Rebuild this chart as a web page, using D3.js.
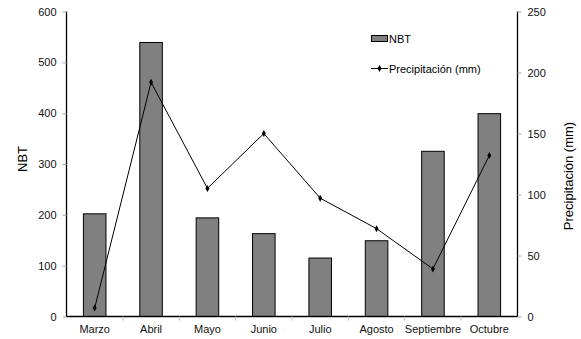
<!DOCTYPE html>
<html><head><meta charset="utf-8">
<script src="https://cdn.jsdelivr.net/npm/d3@7"></script>
<style>body{margin:0;background:#fff}svg{display:block}text{font-family:"Liberation Sans",Arial,sans-serif}</style>
</head><body>
<svg id="c" width="581" height="339"></svg>
<script>
const months = ["Marzo","Abril","Mayo","Junio","Julio","Agosto","Septiembre","Octubre"];
const nbt = [202, 539, 194, 163, 115, 149, 325, 399];
const precip = [7, 192, 105, 150, 97, 72, 39, 132];
const leftTicks = [0,100,200,300,400,500,600];
const rightTicks = [0,50,100,150,200,250];

const svg = d3.select("#c");
const L = 66.5, R = 517.5, T = 11.5, B = 316.5;
const x = d3.scaleBand().domain(months).range([L, R]).paddingInner(0.6).paddingOuter(0.3);
const xb = d3.scaleBand().domain(months).range([L, R]);
const yL = d3.scaleLinear().domain([0,600]).range([B, T]);
const yR = d3.scaleLinear().domain([0,250]).range([B, T]);

// bars
svg.append("g").selectAll("rect").data(nbt).join("rect")
  .attr("x", (d,i)=>x(months[i])).attr("width", x.bandwidth())
  .attr("y", d=>yL(d)).attr("height", d=>B - yL(d))
  .attr("fill","#808080").attr("stroke","#000").attr("stroke-width",1);

// axes
const gl = svg.append("g").attr("transform",`translate(${L},0)`)
  .call(d3.axisLeft(yL).tickValues(leftTicks).tickSize(4).tickPadding(6));
const gr = svg.append("g").attr("transform",`translate(${R},0)`)
  .call(d3.axisRight(yR).tickValues(rightTicks).tickSize(4).tickPadding(6));
const gx = svg.append("g").attr("transform",`translate(0,${B})`)
  .call(d3.axisBottom(xb).tickSize(0).tickPadding(9));
[gl,gr,gx].forEach(g=>{
  g.select(".domain").attr("stroke","#000").attr("stroke-width",1.3);
  g.selectAll(".tick line").attr("stroke","#aaa");
  g.selectAll("text").attr("font-size",11).attr("fill","#111");
});
gl.select(".domain").attr("d",`M0,${T}V${B}`);
gr.select(".domain").attr("d",`M0,${T}V${B}`);
gx.select(".domain").attr("d",`M${L},0H${R}`);
// category boundary ticks
svg.append("g").selectAll("line").data(months.slice(1)).join("line")
  .attr("x1", d=>xb(d)).attr("x2", d=>xb(d)).attr("y1", B).attr("y2", B+4)
  .attr("stroke","#bbb");

// line
const line = d3.line().x((d,i)=>xb(months[i]) + xb.bandwidth()/2).y(d=>yR(d));
svg.append("path").datum(precip).attr("d", line).attr("fill","none").attr("stroke","#000").attr("stroke-width",1);
svg.append("g").selectAll("path").data(precip).join("path")
  .attr("d", d3.symbol(d3.symbolDiamond, 14))
  .attr("transform",(d,i)=>`translate(${xb(months[i]) + xb.bandwidth()/2},${yR(d)})`)
  .attr("fill","#000");

// axis titles
svg.append("text").attr("transform","translate(27,159) rotate(-90)").attr("text-anchor","middle")
  .attr("font-size",13).attr("fill","#000").text("NBT");
svg.append("text").attr("transform","translate(573,176) rotate(-90)").attr("text-anchor","middle")
  .attr("font-size",13).attr("fill","#000").text("Precipitación (mm)");

// legend
const lg = svg.append("g");
lg.append("rect").attr("x",371.5).attr("y",35.5).attr("width",16).attr("height",6)
  .attr("fill","#808080").attr("stroke","#000");
lg.append("text").attr("x",389).attr("y",42.5).attr("font-size",11).attr("fill","#000").text("NBT");
lg.append("line").attr("x1",371).attr("x2",388).attr("y1",68.5).attr("y2",68.5).attr("stroke","#000");
lg.append("path").attr("d", d3.symbol(d3.symbolDiamond, 14)).attr("transform","translate(379.5,68.5)");
lg.append("text").attr("x",389).attr("y",72.5).attr("font-size",11).attr("fill","#000").text("Precipitación (mm)");
</script>
</body></html>
